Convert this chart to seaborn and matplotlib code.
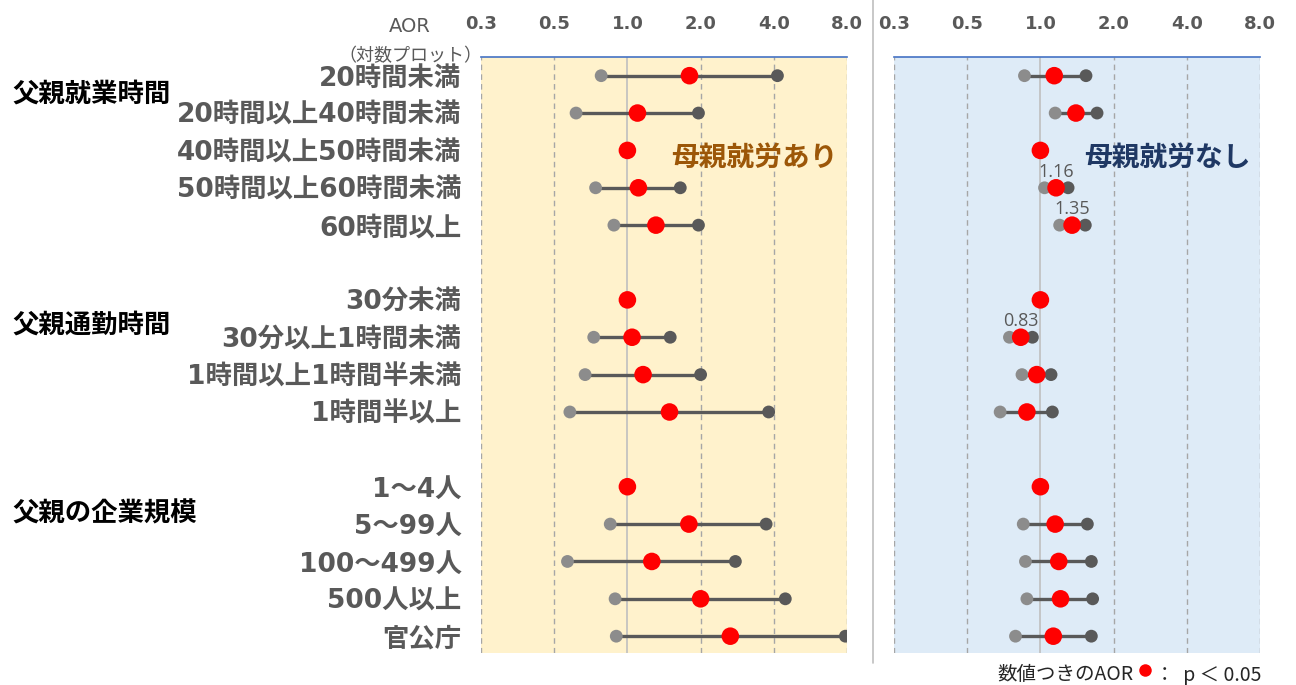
import matplotlib
matplotlib.use("Agg")
import matplotlib.pyplot as plt
import seaborn as sns
import pandas as pd
import numpy as np
from matplotlib.lines import Line2D
import matplotlib.transforms as mtransforms

sns.set_style("white")
plt.rcParams['font.family'] = ['Noto Sans CJK JP', 'DejaVu Sans']

# ---------------- data ----------------
group_names = ["父親就業時間", "父親通勤時間", "父親の企業規模"]
group_items = [
    ["20時間未満", "20時間以上40時間未満", "40時間以上50時間未満", "50時間以上60時間未満", "60時間以上"],
    ["30分未満", "30分以上1時間未満", "1時間以上1時間半未満", "1時間半以上"],
    ["1～4人", "5～99人", "100～499人", "500人以上", "官公庁"],
]

# 母親就労あり
work_aor = [1.80, 1.10, 1.00, 1.11, 1.31, 1.00, 1.045, 1.16, 1.49, 1.00, 1.79, 1.26, 2.00, 2.65]
work_lo = [0.78, 0.615, np.nan, 0.74, 0.88, np.nan, 0.727, 0.67, 0.58, np.nan, 0.85, 0.567, 0.89, 0.90]
work_hi = [4.14, 1.96, np.nan, 1.65, 1.96, np.nan, 1.50, 2.00, 3.81, np.nan, 3.72, 2.78, 4.46, 7.88]

# 母親就労なし
nowork_aor = [1.14, 1.40, 1.00, 1.16, 1.35, 1.00, 0.83, 0.966, 0.88, 1.00, 1.15, 1.19, 1.21, 1.13]
nowork_lo = [0.86, 1.15, np.nan, 1.04, 1.20, np.nan, 0.746, 0.84, 0.683, np.nan, 0.85, 0.868, 0.88, 0.79]
nowork_hi = [1.54, 1.71, np.nan, 1.30, 1.53, np.nan, 0.927, 1.106, 1.12, np.nan, 1.56, 1.62, 1.64, 1.62]
nowork_show = [False, False, False, True, True, False, True, False, False, False, False, False, False, False]

x_ticks = [0.25, 0.5, 1, 2, 4, 8]
x_tick_labels = ["0.3", "0.5", "1.0", "2.0", "4.0", "8.0"]

# ---------------- layout helpers ----------------
labels, rows, group_centers = [], [], []
pos = 0
for gi, items in enumerate(group_items):
    start = pos
    for it in items:
        labels.append(it)
        rows.append(pos)
        pos += 1
    group_centers.append(start)
    pos += 1  # blank row between groups

W, H = 1296, 685
fig = plt.figure(figsize=(W / 100, H / 100), dpi=100)
bottom = 1 - 653 / H
height = (653 - 57) / H
ax1 = fig.add_axes([481 / W, bottom, 366 / W, height])
ax2 = fig.add_axes([894 / W, bottom, 366 / W, height])

TXT = "#595959"
LAT = ['DejaVu Sans', 'Noto Sans CJK JP']

def draw_panel(ax, aor, lo, hi, bg):
    df = pd.DataFrame({"y": rows, "aor": aor, "lo": lo, "hi": hi})
    ax.set_facecolor(bg)
    ax.set_xscale("log", base=2)
    ax.set_xlim(0.25, 8)
    ax.set_ylim(15.45, -0.5)
    for t in x_ticks:
        if t == 1:
            ax.axvline(t, color="#BFBFBF", lw=1.2, zorder=1)
        else:
            ax.axvline(t, color="#A6A6A6", lw=1.0, ls=(0, (4, 3)), zorder=1)
    ci = df.dropna()
    ax.hlines(ci["y"], ci["lo"], ci["hi"], color="#595959", lw=2.4, zorder=2)
    sns.scatterplot(data=ci, x="lo", y="y", ax=ax, color="#8C8C8C", s=85,
                    edgecolor="none", zorder=3, legend=False)
    sns.scatterplot(data=ci, x="hi", y="y", ax=ax, color="#595959", s=85,
                    edgecolor="none", zorder=3, legend=False)
    sns.scatterplot(data=df, x="aor", y="y", ax=ax, color="#FF0000", s=160,
                    edgecolor="none", zorder=4, legend=False)
    ax.set_xlabel("")
    ax.set_ylabel("")
    ax.xaxis.tick_top()
    ax.set_xticks(x_ticks)
    ax.set_xticklabels(x_tick_labels, family="DejaVu Sans", fontweight="bold",
                       fontsize=13, color=TXT)
    ax.xaxis.set_minor_locator(matplotlib.ticker.NullLocator())
    ax.tick_params(axis="x", length=0, pad=17)
    for s in ["left", "right", "bottom"]:
        ax.spines[s].set_visible(False)
    ax.spines["top"].set_color("#4472C4")
    ax.spines["top"].set_linewidth(1.2)

draw_panel(ax1, work_aor, work_lo, work_hi, "#FFF2CC")
draw_panel(ax2, nowork_aor, nowork_lo, nowork_hi, "#DEEBF7")

# y labels on left panel
ax1.set_yticks(rows)
ax1.set_yticklabels(labels, fontsize=19, fontweight="bold", color=TXT, family=LAT)
ax1.tick_params(axis="y", length=0, pad=14)
ax2.set_yticks([])

# group labels
trans = mtransforms.blended_transform_factory(fig.transFigure, ax1.transData)
group_offsets = [0.48, 0.67, 0.73]
for name, c, off in zip(group_names, group_centers, group_offsets):
    ax1.text(12 / W, c + off, name, transform=trans, fontsize=19,
             fontweight="bold", color="black", ha="left", va="center")

# value labels on right panel
for y, v, show in zip(rows, nowork_aor, nowork_show):
    if show:
        ax2.annotate(f"{v:.2f}", (v, y), xytext=(0, 5), textcoords="offset points",
                     ha="center", va="bottom", fontsize=13, color=TXT,
                     family=["Open Sans", "DejaVu Sans"])

# panel titles
ax1.text(0.52, 2.2, "母親就労あり", transform=mtransforms.blended_transform_factory(ax1.transAxes, ax1.transData),
         fontsize=20, fontweight="bold", color="#9C5708", ha="left", va="center")
ax2.text(0.52, 2.2, "母親就労なし", transform=mtransforms.blended_transform_factory(ax2.transAxes, ax2.transData),
         fontsize=20, fontweight="bold", color="#1F3864", ha="left", va="center")

# AOR axis caption
fig.text(410 / W, 1 - 26 / H, "AOR", fontsize=14, color=TXT, ha="center", va="center",
         family=["DejaVu Sans"])
fig.text(410 / W, 1 - 56 / H, "（対数プロット）", fontsize=13, color=TXT, ha="center", va="center")

# separator
fig.add_artist(Line2D([872.5 / W] * 2, [1 - 663 / H, 1], color="#BFBFBF", lw=1.2))

# footnote
fig.text(1133 / W, 1 - 675 / H, "数値つきのAOR", fontsize=14, color="#262626", ha="right", va="center")
fig.add_artist(Line2D([1145 / W], [1 - 670 / H], marker="o", color="#FF0000", markersize=9,
                      markeredgewidth=0))
fig.text(1155 / W, 1 - 675 / H, "：  p ＜ 0.05", fontsize=14, color="#262626", ha="left", va="center")

fig.savefig("out.png", dpi=100)
